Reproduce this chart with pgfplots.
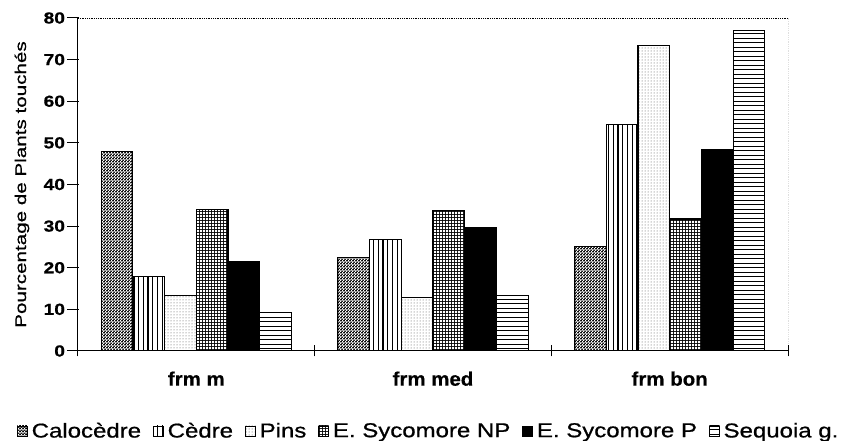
\documentclass[border=0pt]{standalone}
\usepackage{fontspec}
\setmainfont{Liberation Sans}[FakeStretch=1.2, FakeBold=0.8]
\newfontfamily\ylabfont{Liberation Sans}[FakeStretch=1.33, FakeBold=0.8]
\newfontfamily\xtickfont{Liberation Sans Bold}[FakeStretch=1.05, FakeBold=0.5]
\usepackage{pgfplots}
\pgfplotsset{compat=1.18}
\usetikzlibrary{patterns}

% hatch patterns of the scanned chart
\pgfdeclarepatternformonly{vlines}{\pgfpoint{0pt}{-1pt}}{\pgfpoint{4.7pt}{5.7pt}}{\pgfpoint{4.7pt}{4.7pt}}{%
  \pgfsetlinewidth{1.2pt}%
  \pgfpathmoveto{\pgfpoint{2.35pt}{-1pt}}\pgfpathlineto{\pgfpoint{2.35pt}{5.7pt}}\pgfusepath{stroke}}
\pgfdeclarepatternformonly{hlines}{\pgfpoint{-1pt}{0pt}}{\pgfpoint{5.5pt}{4.5pt}}{\pgfpoint{4.5pt}{4.5pt}}{%
  \pgfsetlinewidth{1.4pt}%
  \pgfpathmoveto{\pgfpoint{-1pt}{2.25pt}}\pgfpathlineto{\pgfpoint{5.5pt}{2.25pt}}\pgfusepath{stroke}}
\pgfdeclarepatterninherentlycolored{wgrid}{\pgfpointorigin}{\pgfpoint{3.4pt}{3.4pt}}{\pgfpoint{3.4pt}{3.4pt}}{%
  \pgfsetfillcolor{black}\pgfpathrectangle{\pgfpointorigin}{\pgfpoint{3.4pt}{3.4pt}}\pgfusepath{fill}%
  \pgfsetfillcolor{white}\pgfpathrectangle{\pgfpoint{1.1pt}{1.1pt}}{\pgfpoint{2.3pt}{2.3pt}}\pgfusepath{fill}}
\pgfdeclarepatterninherentlycolored{checker}{\pgfpointorigin}{\pgfpoint{3pt}{3pt}}{\pgfpoint{3pt}{3pt}}{%
  \pgfsetfillcolor{black}\pgfpathrectangle{\pgfpointorigin}{\pgfpoint{3pt}{3pt}}\pgfusepath{fill}%
  \pgfsetfillcolor{white}%
  \pgfpathrectangle{\pgfpoint{0.15pt}{0.15pt}}{\pgfpoint{1.2pt}{1.2pt}}%
  \pgfpathrectangle{\pgfpoint{1.65pt}{1.65pt}}{\pgfpoint{1.2pt}{1.2pt}}\pgfusepath{fill}}

\begin{document}
\begin{tikzpicture}
\useasboundingbox (-78pt,-90pt) rectangle (784pt,351pt);
\begin{axis}[
  at={(0,0)}, anchor=south west,
  width=710pt, height=333pt, scale only axis,
  ybar=0pt, bar width=0.134,
  xmin=-0.5, xmax=2.5, ymin=0, ymax=80,
  axis x line*=bottom, axis y line*=left,
  axis line style={line width=1pt, -},
  tick align=center, major tick length=11pt,
  ytick={0,10,...,80},
  ytick style={xshift=-5pt, line width=1pt, black},
  xtick={-0.5,0.5,1.5,2.5}, xticklabels={},
  xtick style={line width=1pt, black},
  extra x ticks={0,1,2},
  extra x tick labels={frm m, frm med, frm bon},
  extra x tick style={major tick length=0pt},
  /pgf/number format/assume math mode=true,
  yticklabel style={font=\fontsize{16}{16}\selectfont\bfseries, xshift=-4pt},
  xticklabel style={font=\fontsize{19.5}{19.5}\xtickfont, yshift=-17pt},
  ylabel={Pourcentage de Plants touchés},
  ylabel style={font=\fontsize{15.5}{15.5}\ylabfont, at={(axis description cs:-0.079,0.5)}, anchor=center},
  legend columns=-1,
  legend style={at={(axis description cs:0.494,-0.24)}, anchor=center, draw=none,
    font=\fontsize{20}{20}\selectfont, inner sep=0pt,
    /tikz/every odd column/.append style={column sep=2pt},
    /tikz/every even column/.append style={column sep=10pt}},
  legend image code/.code={\draw[#1, line width=0.6pt] (0pt,-5pt) rectangle (10pt,5pt);},
  ]
\addplot[draw=black, line width=1.1pt, pattern=checker]
  coordinates {(0,48.0) (1,22.4) (2,25.2)};
\addplot[draw=black, line width=1.1pt, pattern=vlines]
  coordinates {(0,18.0) (1,26.8) (2,54.5)};
\addplot[draw=black, line width=1.1pt, pattern=dots, pattern color=black!70]
  coordinates {(0,13.3) (1,12.9) (2,73.5)};
\addplot[draw=black, line width=1.1pt, pattern=wgrid]
  coordinates {(0,33.9) (1,33.7) (2,31.7)};
\addplot[draw=black, line width=1.1pt, fill=black]
  coordinates {(0,21.6) (1,29.6) (2,48.3)};
\addplot[draw=black, line width=1.1pt, pattern=hlines]
  coordinates {(0,9.3) (1,13.3) (2,76.9)};
\legend{Calocèdre, Cèdre, Pins, E. Sycomore NP, E. Sycomore P, Sequoia g.}
\draw[densely dotted, line width=0.8pt] (rel axis cs:0,1) -- (rel axis cs:1,1) -- (rel axis cs:1,0);
\end{axis}
\end{tikzpicture}
\end{document}
